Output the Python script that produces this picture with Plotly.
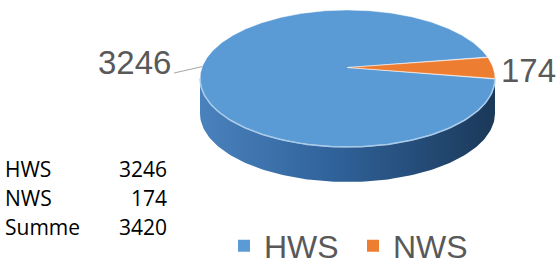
import numpy as np
import plotly.graph_objects as go

# ---- data ----
labels = ["HWS", "NWS"]
values = [3246, 174]
slice_colors = ["#5B9BD5", "#ED7D31"]
table_labels = ["HWS", "NWS", "Summe"]
table_values = values + [sum(values)]

# ---- geometry of the pseudo-3D pie (pixel space) ----
W, H = 556, 264
CX, CY, RX, RY, DEPTH = 347.5, 78.5, 147.5, 68.5, 35
APEX_DY = -11          # perspective shift of the apex
START_DEG = 0.0        # first slice starts at 3 o'clock, clockwise


def ell(t_deg, dy=0.0):
    t = np.radians(t_deg)
    return CX + RX * np.cos(t), CY - RY * np.sin(t) + dy


fig = go.Figure()

# side (front half of the cylinder)
t_front = np.linspace(180, 360, 120)
xt, yt = ell(t_front)
xb, yb = ell(t_front[::-1], DEPTH)
fig.add_trace(go.Scatter(
    x=np.concatenate([xt, xb]), y=np.concatenate([yt, yb]),
    mode="lines", fill="toself", line=dict(width=0, color="rgba(0,0,0,0)"),
    fillgradient=dict(type="horizontal",
                      colorscale=[[0, "#4A82BD"], [0.45, "#30629A"], [1, "#1B3959"]]),
    hoverinfo="skip", showlegend=False))

# top face slices
total = sum(values)
a0 = START_DEG
for lab, v, col in zip(labels, values, slice_colors):
    span = v / total * 360.0
    ts = np.linspace(a0, a0 - span, max(4, int(span * 2)))
    ax, ay = ell(ts)
    px = np.concatenate([[CX], ax, [CX]])
    py = np.concatenate([[CY + APEX_DY], ay, [CY + APEX_DY]])
    fig.add_trace(go.Scatter(
        x=px, y=py, mode="lines", fill="toself", fillcolor=col,
        line=dict(width=0.8, color="rgba(255,255,255,0.6)"),
        name=lab, hoverinfo="skip", showlegend=False))
    a0 -= span

# light rim between top and side
rx_, ry_ = ell(t_front)
fig.add_trace(go.Scatter(x=rx_, y=ry_, mode="lines",
                         line=dict(color="#A9CBEA", width=1.5),
                         hoverinfo="skip", showlegend=False))

# leader line for the big slice label
lx, ly = ell(170)
fig.add_trace(go.Scatter(x=[174, lx], y=[73, ly], mode="lines",
                         line=dict(color="#A6A6A6", width=1),
                         hoverinfo="skip", showlegend=False))

# legend entries
for lab, col in zip(labels, slice_colors):
    fig.add_trace(go.Scatter(x=[None], y=[None], mode="markers", name=lab,
                             marker=dict(symbol="square", size=12, color=col)))

label_font = dict(family="Liberation Sans, Arial", size=33, color="#595959")
fig.add_annotation(x=134, y=62, text=str(values[0]), showarrow=False,
                   font=label_font, xanchor="center", yanchor="middle")
fig.add_annotation(x=528, y=70, text=str(values[1]), showarrow=False,
                   font=label_font, xanchor="center", yanchor="middle")

# small table
tab_font = dict(family="Open Sans", size=21, color="#000000")
for i, (tl, tv) in enumerate(zip(table_labels, table_values)):
    yy = 169 + i * 29
    fig.add_annotation(x=3, y=yy, text=tl, showarrow=False, font=tab_font,
                       xanchor="left", yanchor="middle")
    fig.add_annotation(x=169, y=yy, text=str(tv), showarrow=False, font=tab_font,
                       xanchor="right", yanchor="middle")

fig.update_layout(
    width=W, height=H, autosize=False,
    margin=dict(l=0, r=0, t=0, b=0, pad=0, autoexpand=False),
    paper_bgcolor="white", plot_bgcolor="white",
    xaxis=dict(range=[0, W], visible=False, fixedrange=True),
    yaxis=dict(range=[H, 0], visible=False, fixedrange=True),
    showlegend=True,
    legend=dict(orientation="h", x=224 / W, xanchor="left",
                y=1 - 246 / H, yanchor="middle",
                font=dict(family="Liberation Sans, Arial", size=32, color="#595959"),
                entrywidth=84, entrywidthmode="pixels",
                bgcolor="rgba(0,0,0,0)", itemclick=False, itemdoubleclick=False),
)

fig.write_html("out.html",
               config={"displayModeBar": False},
               post_script="document.body.style.margin='0';"
                           "document.documentElement.style.overflow='hidden';")
